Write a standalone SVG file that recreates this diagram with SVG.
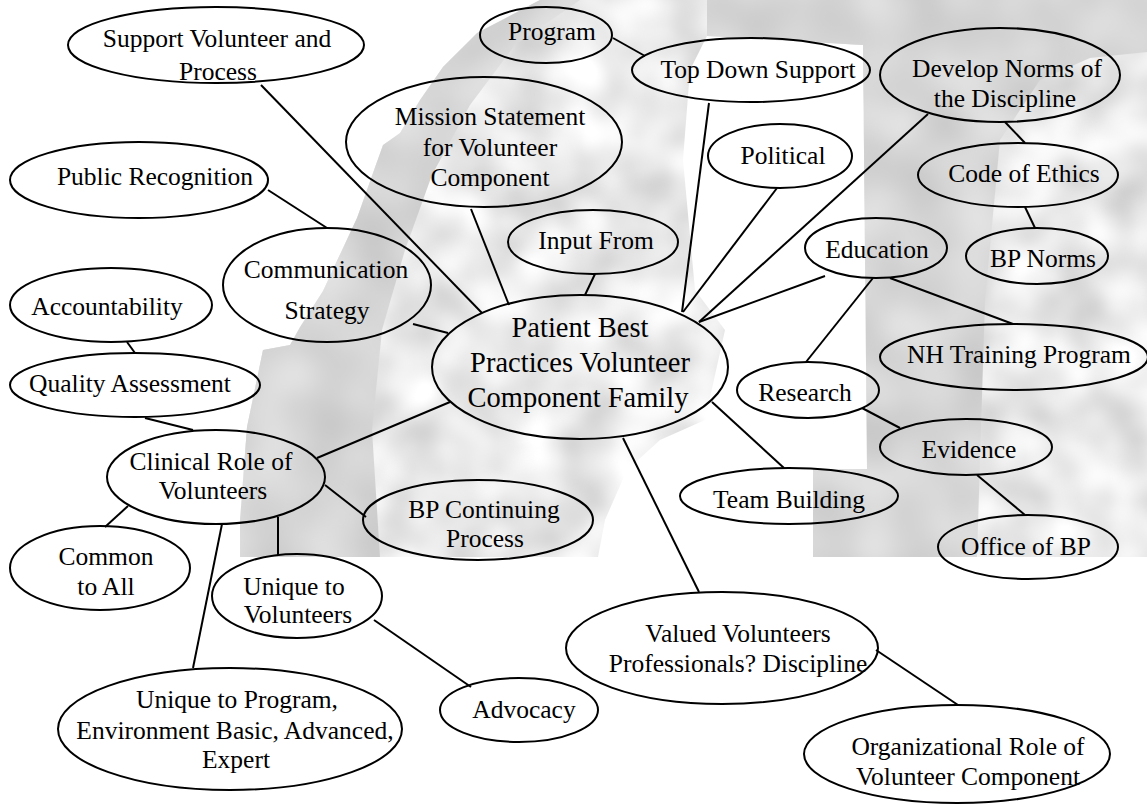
<svg xmlns="http://www.w3.org/2000/svg" width="1147" height="804" viewBox="0 0 1147 804">
  <style>
    .node ellipse { fill: none; stroke: #000; stroke-width: 2; }
    .node text { font-family: "Liberation Serif", "Times New Roman", serif; font-size: 25.5px; fill: #000; text-anchor: middle; }
    #n-center text { font-size: 28.5px; }
    #connectors line { stroke: #000; stroke-width: 2; }
  </style>

  <defs>
    <!-- soft blotchy grey texture, clipped to the painted shape -->
    <filter id="mottle-light" x="0" y="0" width="1" height="1" filterUnits="objectBoundingBox" color-interpolation-filters="sRGB">
      <feTurbulence type="fractalNoise" baseFrequency="0.018" numOctaves="2" seed="7" result="noise"/>
      <feColorMatrix in="noise" type="matrix" values="0.3 0 0 0 0.77  0.3 0 0 0 0.77  0.3 0 0 0 0.77  0 0 0 0 1" result="grey"/>
      <feComposite in="grey" in2="SourceGraphic" operator="in"/>
    </filter>
    <filter id="mottle-dark" x="0" y="0" width="1" height="1" filterUnits="objectBoundingBox" color-interpolation-filters="sRGB">
      <feTurbulence type="fractalNoise" baseFrequency="0.02" numOctaves="1" seed="3" result="noise"/>
      <feColorMatrix in="noise" type="matrix" values="0.18 0 0 0 0.75  0.18 0 0 0 0.75  0.18 0 0 0 0.75  0 0 0 0 1" result="grey"/>
      <feComposite in="grey" in2="SourceGraphic" operator="in"/>
    </filter>
  </defs>

  <rect width="1147" height="804" fill="#fff"/>

  <!-- faint grey backdrop behind the map -->
  <g id="backdrop">
    <path filter="url(#mottle-light)" fill="#000" fill-rule="evenodd" d="M540,0 L1147,0 L1147,557 L240,557 L240,520 L247,427 L263,350 L290,345 L300,327 L323,291 L357,218 L383,145 L400,133 L420,100 L443,67 L477,33 Z
      M707,36 L863,45 L867,469 L813,469 L813,557 L598,557 L605,520 L627,470 L660,440 L705,420 L725,330 L695,290 L683,160 L690,70 Z"/>
    <path filter="url(#mottle-dark)" fill="#000" d="M540,0 L580,0 L515,45 L470,105 L432,175 L405,250 L382,330 L372,430 L380,557 L240,557 L240,520 L247,427 L263,350 L290,345 L300,327 L323,291 L357,218 L383,145 L400,133 L420,100 L443,67 L477,33 Z"/>
    <path filter="url(#mottle-dark)" fill="#000" d="M707,0 L1147,0 L1147,52 L1090,58 L1040,80 L1000,140 L985,300 L977,557 L813,557 L813,469 L867,469 L863,45 L707,36 Z"/>
  </g>

  <g id="connectors">
    <line x1="261" y1="85" x2="482" y2="313"/>
    <line x1="268" y1="190" x2="327" y2="228"/>
    <line x1="613" y1="38" x2="645" y2="56"/>
    <line x1="471" y1="209" x2="509" y2="305"/>
    <line x1="595" y1="274" x2="585" y2="295"/>
    <line x1="709" y1="103" x2="682" y2="312"/>
    <line x1="777" y1="188" x2="683" y2="312"/>
    <line x1="928" y1="114" x2="699" y2="322"/>
    <line x1="825" y1="276" x2="699" y2="322"/>
    <line x1="1005" y1="122" x2="1025" y2="143"/>
    <line x1="1025" y1="207" x2="1035" y2="228"/>
    <line x1="873" y1="278" x2="806" y2="362"/>
    <line x1="890" y1="278" x2="1013" y2="324"/>
    <line x1="862" y1="408" x2="900" y2="428"/>
    <line x1="977" y1="475" x2="1025" y2="515"/>
    <line x1="413" y1="324" x2="448" y2="333"/>
    <line x1="317" y1="458" x2="450" y2="402"/>
    <line x1="712" y1="402" x2="784" y2="468"/>
    <line x1="623" y1="438" x2="699" y2="592"/>
    <line x1="876" y1="650" x2="958" y2="705"/>
    <line x1="127" y1="342" x2="135" y2="353"/>
    <line x1="145" y1="418" x2="193" y2="430"/>
    <line x1="325" y1="485" x2="366" y2="517"/>
    <line x1="128" y1="506" x2="105" y2="527"/>
    <line x1="222" y1="524" x2="193" y2="668"/>
    <line x1="278" y1="517" x2="278" y2="555"/>
    <line x1="374" y1="620" x2="471" y2="687"/>
  </g>

  <g id="n-support" class="node">
    <ellipse cx="216" cy="45" rx="148" ry="38"/>
    <text x="217" y="47">Support Volunteer and</text>
    <text x="218" y="80">Process</text>
  </g>
  <g id="n-program" class="node">
    <ellipse cx="546" cy="35" rx="66" ry="28"/>
    <text x="552" y="40">Program</text>
  </g>
  <g id="n-topdown" class="node">
    <ellipse cx="751" cy="70" rx="119" ry="32"/>
    <text x="758" y="78">Top Down Support</text>
  </g>
  <g id="n-mission" class="node">
    <ellipse cx="484" cy="142" rx="138" ry="65"/>
    <text x="490" y="125">Mission Statement</text>
    <text x="490" y="156">for Volunteer</text>
    <text x="490" y="186">Component</text>
  </g>
  <g id="n-political" class="node">
    <ellipse cx="780" cy="156" rx="72" ry="32"/>
    <text x="783" y="164">Political</text>
  </g>
  <g id="n-develop" class="node">
    <ellipse cx="1000" cy="75" rx="120" ry="47"/>
    <text x="1007" y="77">Develop Norms of</text>
    <text x="1005" y="107">the Discipline</text>
  </g>
  <g id="n-ethics" class="node">
    <ellipse cx="1018" cy="175" rx="100" ry="32"/>
    <text x="1024" y="182">Code of Ethics</text>
  </g>
  <g id="n-bpnorms" class="node">
    <ellipse cx="1037" cy="256" rx="71" ry="28"/>
    <text x="1043" y="267">BP Norms</text>
  </g>
  <g id="n-public" class="node">
    <ellipse cx="139" cy="180" rx="129" ry="38"/>
    <text x="155" y="185">Public Recognition</text>
  </g>
  <g id="n-input" class="node">
    <ellipse cx="593" cy="242" rx="85" ry="32"/>
    <text x="596" y="249">Input From</text>
  </g>
  <g id="n-communication" class="node">
    <ellipse cx="327" cy="285" rx="104" ry="57"/>
    <text x="326" y="278">Communication</text>
    <text x="327" y="319">Strategy</text>
  </g>
  <g id="n-education" class="node">
    <ellipse cx="876" cy="248" rx="71" ry="30"/>
    <text x="877" y="258">Education</text>
  </g>
  <g id="n-accountability" class="node">
    <ellipse cx="111" cy="305" rx="101" ry="37"/>
    <text x="107" y="315">Accountability</text>
  </g>
  <g id="n-center" class="node">
    <ellipse cx="580" cy="367" rx="148" ry="72"/>
    <text x="580" y="337">Patient Best</text>
    <text x="580" y="372">Practices Volunteer</text>
    <text x="578" y="407">Component Family</text>
  </g>
  <g id="n-nhtraining" class="node">
    <ellipse cx="1014" cy="357" rx="134" ry="33"/>
    <text x="1019" y="363">NH Training Program</text>
  </g>
  <g id="n-quality" class="node">
    <ellipse cx="135" cy="385" rx="125" ry="32"/>
    <text x="130" y="392">Quality Assessment</text>
  </g>
  <g id="n-research" class="node">
    <ellipse cx="808" cy="390" rx="71" ry="28"/>
    <text x="805" y="401">Research</text>
  </g>
  <g id="n-clinical" class="node">
    <ellipse cx="216" cy="477" rx="109" ry="47"/>
    <text x="211" y="470">Clinical Role of</text>
    <text x="213" y="499">Volunteers</text>
  </g>
  <g id="n-evidence" class="node">
    <ellipse cx="966" cy="447" rx="86" ry="28"/>
    <text x="969" y="458">Evidence</text>
  </g>
  <g id="n-teambuilding" class="node">
    <ellipse cx="789" cy="496" rx="109" ry="28"/>
    <text x="789" y="508">Team Building</text>
  </g>
  <g id="n-bpcontinuing" class="node">
    <ellipse cx="478" cy="520" rx="115" ry="40"/>
    <text x="484" y="518">BP Continuing</text>
    <text x="485" y="547">Process</text>
  </g>
  <g id="n-officebp" class="node">
    <ellipse cx="1028" cy="547" rx="90" ry="32"/>
    <text x="1026" y="555">Office of BP</text>
  </g>
  <g id="n-common" class="node">
    <ellipse cx="100" cy="568" rx="90" ry="42"/>
    <text x="106" y="565">Common</text>
    <text x="106" y="595">to All</text>
  </g>
  <g id="n-uniquevol" class="node">
    <ellipse cx="297" cy="596" rx="85" ry="42"/>
    <text x="294" y="595">Unique to</text>
    <text x="298" y="623">Volunteers</text>
  </g>
  <g id="n-valued" class="node">
    <ellipse cx="722" cy="648" rx="156" ry="56"/>
    <text x="738" y="642">Valued Volunteers</text>
    <text x="738" y="672">Professionals? Discipline</text>
  </g>
  <g id="n-advocacy" class="node">
    <ellipse cx="519" cy="710" rx="79" ry="32"/>
    <text x="524" y="718">Advocacy</text>
  </g>
  <g id="n-uniqueprog" class="node">
    <ellipse cx="230" cy="729" rx="172" ry="61"/>
    <text x="237" y="708">Unique to Program,</text>
    <text x="235" y="739">Environment Basic, Advanced,</text>
    <text x="236" y="768">Expert</text>
  </g>
  <g id="n-organizational" class="node">
    <ellipse cx="957" cy="754" rx="153" ry="49"/>
    <text x="968" y="755">Organizational Role of</text>
    <text x="968" y="785">Volunteer Component</text>
  </g>
</svg>
